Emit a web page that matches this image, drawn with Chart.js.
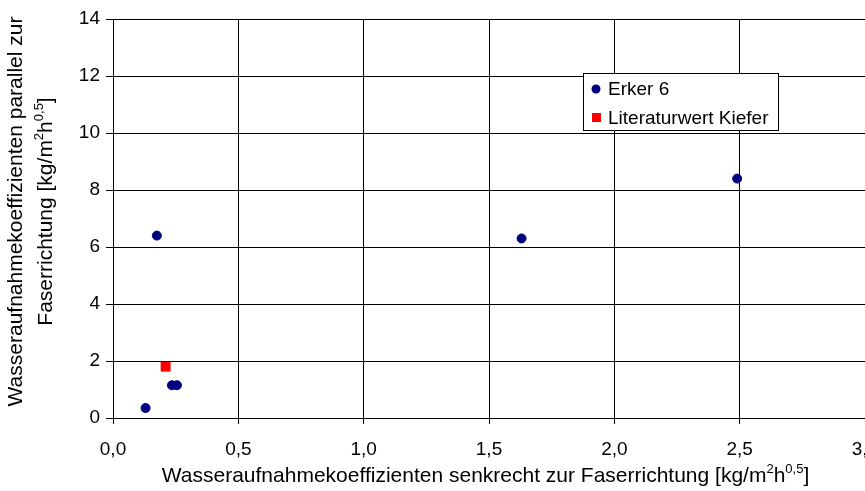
<!DOCTYPE html>
<html>
<head>
<meta charset="utf-8">
<script src="https://cdn.jsdelivr.net/npm/chart.js@4/dist/chart.umd.min.js"></script>
<style>
  html, body { margin: 0; padding: 0; background: #fff; overflow: hidden; }
  #wrap { width: 865px; height: 491px; overflow: hidden; }
</style>
</head>
<body>
<div id="wrap"><canvas id="chart" width="872" height="491"></canvas></div>
<script>
// values
const erkerX = [0.13, 0.175, 0.235, 0.255, 1.63, 2.49];
const erkerY = [0.35, 6.4, 1.15, 1.15, 6.3, 8.4];
const kieferX = [0.21];
const kieferY = [1.8];
const seriesNames = ['Erker 6', 'Literaturwert Kiefer'];
// axis titles, split so the units can get real superscripts
const xTitle = [['Wasseraufnahmekoeffizienten senkrecht zur Faserrichtung [kg/m'], ['2', 1], ['h'], ['0,5', 1], [']']];
const yTitle1 = [['Wasseraufnahmekoeffizienten parallel zur']];
const yTitle2 = [['Faserrichtung [kg/m'], ['2', 1], ['h'], ['0,5', 1], [']']];

const FONT = 'Liberation Sans, Arial, sans-serif';
const TITLE_SIZE = 21;

const toPoints = (xs, ys) => xs.map((x, i) => ({ x: x, y: ys[i] }));

// draw a text run with superscripts, centered on (x, y) baseline
function drawRich(ctx, parts, x, y, rot, size) {
  const supSize = Math.round(size * 0.62);
  ctx.save();
  ctx.translate(x, y);
  ctx.rotate(rot);
  ctx.fillStyle = '#000';
  ctx.textBaseline = 'alphabetic';
  ctx.textAlign = 'left';
  let total = 0;
  parts.forEach(p => {
    ctx.font = (p[1] ? supSize : size) + 'px ' + FONT;
    total += ctx.measureText(p[0]).width;
  });
  let cx = -total / 2;
  parts.forEach(p => {
    ctx.font = (p[1] ? supSize : size) + 'px ' + FONT;
    ctx.fillText(p[0], cx, p[1] ? -size * 0.42 : 0);
    cx += ctx.measureText(p[0]).width;
  });
  ctx.restore();
}

const axisTitles = {
  id: 'axisTitles',
  afterDraw(chart) {
    const ctx = chart.ctx;
    const a = chart.chartArea;
    const mid = (a.left + a.right - 7) / 2;
    drawRich(ctx, xTitle, mid, 482, 0, TITLE_SIZE);
    const my = (a.top + a.bottom) / 2 - 7;
    drawRich(ctx, yTitle1, 22, my, -Math.PI / 2, TITLE_SIZE);
    drawRich(ctx, yTitle2, 52, my, -Math.PI / 2, TITLE_SIZE);
  }
};

// legend box drawn inside the plot, like the original
const boxLegend = {
  id: 'boxLegend',
  afterDraw(chart) {
    const ctx = chart.ctx;
    const x0 = 583, y0 = 73, w = 195, h = 57;
    ctx.save();
    ctx.fillStyle = '#fff';
    ctx.fillRect(x0, y0, w, h);
    ctx.strokeStyle = '#000';
    ctx.lineWidth = 1;
    ctx.strokeRect(x0 + 0.5, y0 + 0.5, w, h);
    ctx.font = '19px ' + FONT;
    ctx.textBaseline = 'middle';
    chart.data.datasets.forEach((ds, i) => {
      const cy = y0 + 16 + i * 29;
      ctx.fillStyle = ds.backgroundColor;
      if (ds.pointStyle === 'rect') {
        ctx.fillRect(x0 + 9, cy - 5, 9, 9);
      } else {
        ctx.beginPath();
        ctx.arc(x0 + 13, cy, 4.5, 0, Math.PI * 2);
        ctx.fill();
      }
      ctx.fillStyle = '#000';
      ctx.fillText(ds.label, x0 + 25, cy + 1);
    });
    ctx.restore();
  }
};

const ctx = document.getElementById('chart').getContext('2d');
new Chart(ctx, {
  type: 'scatter',
  data: {
    datasets: [
      {
        label: seriesNames[0],
        data: toPoints(erkerX, erkerY),
        backgroundColor: '#000080',
        borderColor: '#000080',
        borderWidth: 1,
        pointStyle: 'circle',
        pointRadius: 4.5,
      },
      {
        label: seriesNames[1],
        data: toPoints(kieferX, kieferY),
        backgroundColor: '#ff0000',
        borderColor: '#ff0000',
        borderWidth: 0,
        pointStyle: 'rect',
        pointRadius: 7,
      }
    ]
  },
  options: {
    responsive: false,
    animation: false,
    layout: { padding: { top: 19, right: 0, bottom: 0, left: 0 } },
    plugins: {
      legend: { display: false },
      tooltip: { enabled: false },
    },
    scales: {
      x: {
        type: 'linear',
        min: 0,
        max: 3,
        afterFit: (scale) => {
          scale.height = 73;
          scale.paddingRight = 0;
        },
        ticks: {
          stepSize: 0.5,
          color: '#000',
          padding: 14,
          font: { family: FONT, size: 19 },
          callback: (v) => v.toFixed(1).replace('.', ','),
        },
        grid: { color: '#000', lineWidth: 1, tickLength: 6, tickColor: '#000' },
        border: { color: '#000', width: 1 },
      },
      y: {
        min: 0,
        max: 14,
        afterFit: (scale) => {
          scale.width = 113;
        },
        ticks: {
          stepSize: 2,
          color: '#000',
          padding: 6,
          font: { family: FONT, size: 19 },
        },
        grid: { color: '#000', lineWidth: 1, tickLength: 7, tickColor: '#000' },
        border: { color: '#000', width: 1 },
      }
    }
  },
  plugins: [boxLegend, axisTitles]
});
</script>
</body>
</html>
